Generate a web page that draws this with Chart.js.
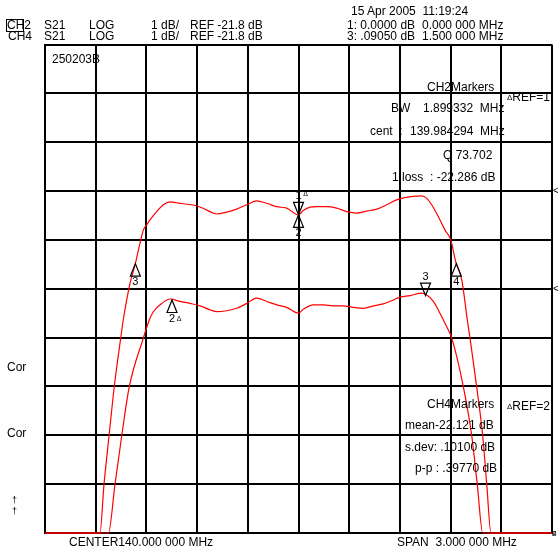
<!DOCTYPE html>
<html>
<head>
<meta charset="utf-8">
<script src="https://cdn.jsdelivr.net/npm/chart.js@4/dist/chart.umd.min.js"></script>
<style>
html, body { margin: 0; padding: 0; background: #fff; overflow: hidden; }
#wrap { position: relative; width: 558px; height: 553px; overflow: hidden;
  font-family: "Liberation Sans", Arial, sans-serif; font-size: 12px; color: #000; }
#c { position: absolute; left: 0; top: 0; }
.t { position: absolute; white-space: pre; line-height: 14px; }
.sm { font-size: 8px; vertical-align: 1px; }
.box { position: absolute; left: 6px; top: 19px; width: 16px; height: 11px; border: 1px solid #000; }
</style>
</head>
<body>
<div id="wrap">
  <canvas id="c" width="558" height="553"></canvas>
  <div class="box"></div>
  <div class="t" style="left:351px;top:4px">15 Apr 2005  11:19:24</div>

  <div class="t" style="left:7px;top:18px">CH2</div>
  <div class="t" style="left:44px;top:18px">S21</div>
  <div class="t" style="left:89px;top:18px">LOG</div>
  <div class="t" style="left:151px;top:18px">1 dB/</div>
  <div class="t" style="left:190px;top:18px">REF -21.8 dB</div>
  <div class="t" style="left:347px;top:18px">1: 0.0000 dB</div>
  <div class="t" style="left:422px;top:18px">0.000 000 MHz</div>

  <div class="t" style="left:8px;top:29px">CH4</div>
  <div class="t" style="left:44px;top:29px">S21</div>
  <div class="t" style="left:89px;top:29px">LOG</div>
  <div class="t" style="left:151px;top:29px">1 dB/</div>
  <div class="t" style="left:190px;top:29px">REF -21.8 dB</div>
  <div class="t" style="left:347px;top:29px">3: .09050 dB</div>
  <div class="t" style="left:422px;top:29px">1.500 000 MHz</div>

  <div class="t" style="left:52px;top:52px">250203B</div>

  <div class="t" style="left:427px;top:80px">CH2Markers</div>
  <div class="t" style="left:507px;top:90px"><span class="sm">Δ</span>REF=1</div>
  <div class="t" style="left:391px;top:101px">BW</div>
  <div class="t" style="left:423px;top:101px">1.899332  MHz</div>
  <div class="t" style="left:370px;top:124px">cent  :</div>
  <div class="t" style="left:410px;top:124px">139.984294  MHz</div>
  <div class="t" style="left:443px;top:148px">Q 73.702</div>
  <div class="t" style="left:392px;top:170px">1 loss  : -22.286 dB</div>

  <div class="t" style="left:427px;top:397px">CH4Markers</div>
  <div class="t" style="left:507px;top:399px"><span class="sm">Δ</span>REF=2</div>
  <div class="t" style="left:405px;top:418px">mean-22.121 dB</div>
  <div class="t" style="left:405px;top:440px">s.dev: .10100 dB</div>
  <div class="t" style="left:415px;top:461px">p-p : .39770 dB</div>

  <div class="t" style="left:7px;top:360px">Cor</div>
  <div class="t" style="left:7px;top:426px">Cor</div>
  <div class="t" style="left:12px;top:493px;font-size:9px">†</div>
  <div class="t" style="left:12px;top:504px;font-size:9px">†</div>

  <div class="t" style="left:69px;top:535px">CENTER140.000 000 MHz</div>
  <div class="t" style="left:397px;top:535px">SPAN  3.000 000 MHz</div>
  <div class="t" style="left:552px;top:527px;font-size:8px">2</div>
  <div class="t" style="left:552px;top:527px;font-size:8px">4</div>
</div>
<script>
// frequency axis: center 140 MHz, span 3 MHz, 0.3 MHz/div
const xTickValues = [138.5, 138.8, 139.1, 139.4, 139.7, 140.0, 140.3, 140.6, 140.9, 141.2, 141.5];
// CH2 display: REF -21.8 dB, 1 dB/div, ref line 7 div above bottom
const yTickValues = [-28.8, -27.8, -26.8, -25.8, -24.8, -23.8, -22.8, -21.8, -20.8, -19.8, -18.8];
const refLevel = -21.8;

const freqCh2 = [138.500, 138.825, 138.849, 138.879, 138.910, 138.948, 138.963, 139.003, 139.033, 139.062,
  139.082, 139.102, 139.121, 139.161, 139.200, 139.240, 139.279, 139.318, 139.398, 139.457,
  139.516, 139.575, 139.634, 139.694, 139.753, 139.812, 139.871, 139.930, 140.000, 140.028,
  140.068, 140.108, 140.167, 140.226, 140.285, 140.344, 140.404, 140.463, 140.522, 140.581,
  140.620, 140.679, 140.729, 140.759, 140.788, 140.827, 140.867, 140.901, 140.932, 140.966,
  140.999, 141.015, 141.054, 141.090, 141.114, 141.139, 141.500];
const dbCh2 = [-28.8, -28.8, -27.81, -26.81, -25.80, -24.81, -24.44, -23.69, -23.31, -22.87,
  -22.60, -22.49, -22.39, -22.22, -22.08, -22.02, -22.04, -22.06, -22.10, -22.19,
  -22.27, -22.23, -22.17, -22.08, -22.00, -22.05, -22.12, -22.15, -22.29, -22.20,
  -22.13, -22.12, -22.12, -22.15, -22.22, -22.25, -22.21, -22.17, -22.08, -21.98,
  -21.94, -21.91, -21.90, -21.95, -22.08, -22.32, -22.60, -22.80, -23.27, -23.62,
  -24.44, -24.81, -25.80, -26.81, -27.81, -28.8, -28.8];

const freqCh4 = [138.500, 138.875, 138.914, 138.954, 138.999, 139.082, 139.117, 139.141, 139.191, 139.240,
  139.299, 139.358, 139.417, 139.476, 139.516, 139.575, 139.634, 139.694, 139.753, 139.812,
  139.871, 139.930, 140.000, 140.028, 140.088, 140.147, 140.206, 140.265, 140.324, 140.383,
  140.443, 140.502, 140.561, 140.601, 140.660, 140.729, 140.759, 140.798, 140.837, 140.877,
  140.907, 140.975, 141.025, 141.058, 141.090, 141.500];
const dbCh4 = [-26.8, -26.8, -25.81, -24.81, -23.80, -22.81, -22.44, -22.27, -22.10, -22.01,
  -22.06, -22.10, -22.15, -22.23, -22.27, -22.25, -22.20, -22.10, -21.99, -22.06,
  -22.13, -22.18, -22.30, -22.22, -22.13, -22.13, -22.15, -22.15, -22.18, -22.20,
  -22.15, -22.11, -22.03, -21.97, -21.94, -21.89, -21.93, -22.06, -22.30, -22.58,
  -22.81, -23.80, -24.81, -25.81, -26.8, -26.8];

// markers
const ch2MarkerFreq = [140.0, 140.0, 139.0346, 140.934];
const ch2MarkerDb = [-22.286, -22.286, -23.286, -23.286];
const ch2MarkerLabel = ['1', '2', '3', '4'];
const ch2MarkerDir = ['down', 'up', 'up', 'up'];
const ch2MarkerRef = [true, false, false, false];
const ch4MarkerFreq = [139.2515, 140.7515];
const ch4MarkerDb = [-22.03, -21.94];
const ch4MarkerLabel = ['2', '3'];
const ch4MarkerDir = ['up', 'down'];
const ch4MarkerRef = [true, false];

const toPoints = (xs, ys) => xs.map((x, i) => ({ x: x, y: ys[i] }));

function drawMarker(ctx, x, y, dir, label, isRef) {
  const w = 5, h = 12.5;
  ctx.beginPath();
  ctx.moveTo(x, y);
  if (dir === 'up') { ctx.lineTo(x - w, y + h); ctx.lineTo(x + w, y + h); }
  else { ctx.lineTo(x - w, y - h); ctx.lineTo(x + w, y - h); }
  ctx.closePath();
  ctx.stroke();
  const ly = dir === 'up' ? y + h + 6 : y - h - 6;
  ctx.font = '11px "Liberation Sans", Arial, sans-serif';
  ctx.fillText(label, x, ly);
  if (isRef) {
    ctx.font = '7px "Liberation Sans", Arial, sans-serif';
    ctx.fillText('Δ', x + 7, ly - (dir === 'up' ? -1 : 2));
  }
}

const markerPlugin = {
  id: 'markers',
  afterDatasetsDraw(chart) {
    const ctx = chart.ctx;
    const xs = chart.scales.x, y2 = chart.scales.y, y4 = chart.scales.y4;
    ctx.save();
    ctx.strokeStyle = '#000';
    ctx.fillStyle = '#000';
    ctx.lineWidth = 1.2;
    ctx.textAlign = 'center';
    ctx.textBaseline = 'middle';
    ch2MarkerFreq.forEach((f, i) => drawMarker(ctx, xs.getPixelForValue(f), y2.getPixelForValue(ch2MarkerDb[i]),
      ch2MarkerDir[i], ch2MarkerLabel[i], ch2MarkerRef[i]));
    ch4MarkerFreq.forEach((f, i) => drawMarker(ctx, xs.getPixelForValue(f), y4.getPixelForValue(ch4MarkerDb[i]),
      ch4MarkerDir[i], ch4MarkerLabel[i], ch4MarkerRef[i]));
    // reference position pointers on the right edge
    ctx.font = '10px "Liberation Sans", Arial, sans-serif';
    ctx.textAlign = 'left';
    ctx.fillText('<', chart.chartArea.right + 1, y2.getPixelForValue(refLevel));
    ctx.fillText('<', chart.chartArea.right + 1, y4.getPixelForValue(refLevel));
    ctx.restore();
  }
};

const gridStyle = { color: '#000', lineWidth: 2, drawTicks: false };
const borderStyle = { display: true, color: '#000', width: 2 };

new Chart(document.getElementById('c'), {
  type: 'line',
  data: {
    datasets: [
      { label: 'CH2 S21', data: toPoints(freqCh2, dbCh2), yAxisID: 'y', borderColor: '#ff0000',
        borderWidth: 1.2, pointRadius: 0, cubicInterpolationMode: 'monotone', clip: false },
      { label: 'CH4 S21', data: toPoints(freqCh4, dbCh4), yAxisID: 'y4', borderColor: '#ff0000',
        borderWidth: 1.2, pointRadius: 0, cubicInterpolationMode: 'monotone', clip: false }
    ]
  },
  options: {
    responsive: false,
    animation: false,
    devicePixelRatio: 1,
    layout: { padding: { left: 45, top: 44.5, right: 6, bottom: 20 } },
    plugins: { legend: { display: false }, tooltip: { enabled: false } },
    scales: {
      x: {
        type: 'linear', min: 138.5, max: 141.5,
        afterBuildTicks: axis => { axis.ticks = xTickValues.map(v => ({ value: v })); },
        ticks: { display: false },
        grid: gridStyle, border: borderStyle
      },
      y: {
        type: 'linear', min: yTickValues[0], max: yTickValues[yTickValues.length - 1],
        afterBuildTicks: axis => { axis.ticks = yTickValues.map(v => ({ value: v })); },
        ticks: { display: false },
        grid: gridStyle, border: borderStyle
      },
      // CH4 display: same REF, ref line 5 div above bottom
      y4: { type: 'linear', min: -26.8, max: -16.8, display: false }
    }
  },
  plugins: [markerPlugin]
});
</script>
</body>
</html>
